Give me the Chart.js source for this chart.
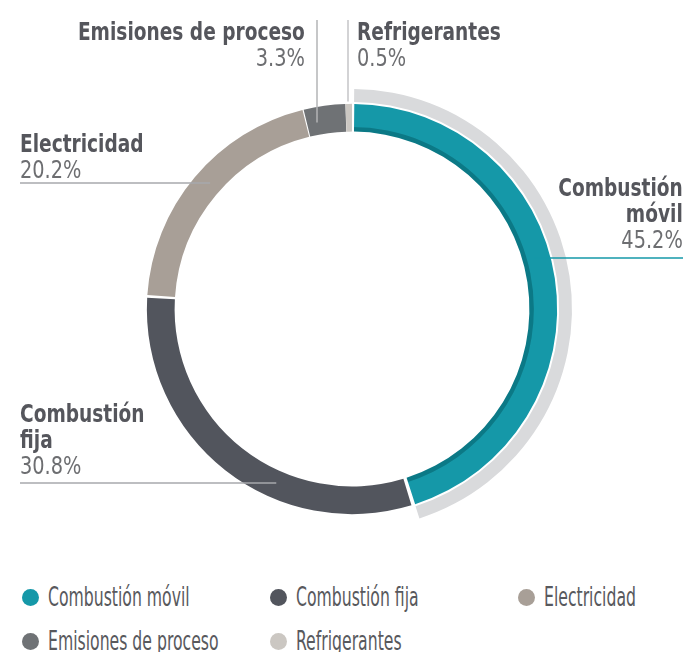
<!DOCTYPE html>
<html>
<head>
<meta charset="utf-8">
<script src="https://cdn.jsdelivr.net/npm/chart.js@4.4.1/dist/chart.umd.min.js"></script>
<style>
  body { margin: 0; background: #fff; font-family: "Liberation Sans Narrow", "DejaVu Sans Condensed", sans-serif; }
  #wrap { position: relative; width: 688px; height: 652px; overflow: hidden; }
  #chartBox { position: absolute; left: 0; top: 0; width: 688px; height: 560px; }
  .lbl { position: absolute; font-size: 24px; line-height: 26px; white-space: nowrap; }
  .lbl b { display: block; font-weight: 700; color: #55565c; }
  .lbl span { display: block; color: #6d6e71; font-size: 25px; }
  #legend { position: absolute; left: 20px; top: 580px; display: grid; grid-template-columns: 248px 248px 180px; row-gap: 10px; }
  .item { display: flex; align-items: center; font-size: 26px; color: #58595d; height: 34px; white-space: nowrap; }
  .item .txt { display: inline-block; transform: scaleX(0.67); transform-origin: left center; }
  .dot { width: 17px; height: 17px; border-radius: 50%; margin: 0 9px 0 2px; flex: none; }
</style>
</head>
<body>
<div id="wrap">
  <div id="chartBox"><canvas id="ring"></canvas></div>
  <div id="labels"></div>
  <div id="legend"></div>
</div>
<script>
// data
const categories = ['Combustión móvil', 'Combustión fija', 'Electricidad', 'Emisiones de proceso', 'Refrigerantes'];
const shares = [45.2, 30.8, 20.2, 3.3, 0.5];
const sliceColors = ['#1598a8', '#52555d', '#a89f97', '#6f7275', '#cbc7c2'];
const shadowColors = ['#d9dadc', 'rgba(0,0,0,0)', 'rgba(0,0,0,0)', 'rgba(0,0,0,0)', 'rgba(0,0,0,0)'];
const bandColor = '#0b7986';

// where each callout sits (layout only)
const callouts = [
    { left: null, right: 5, top: 175, align: 'right', split: true, line: 'h', at: 258, color: '#1598a8' },
    { left: 20, top: 401, align: 'left', split: true, line: 'h', at: 483, color: '#a7a9ac' },
    { left: 20, top: 131, align: 'left', split: false, line: 'h', at: 183, color: '#a7a9ac' },
    { left: null, right: 383, top: 19, align: 'right', split: false, line: 'v', at: 317, color: '#b3b4b6' },
    { left: 357, top: 19, align: 'left', split: false, line: 'v', at: 348, color: '#c4c5c7', stopOuter: true }
];

// labels as html text
const labelsEl = document.getElementById('labels');
categories.forEach((name, i) => {
    const c = callouts[i];
    const div = document.createElement('div');
    div.className = 'lbl';
    div.style.top = c.top + 'px';
    div.style.textAlign = c.align;
    div.style.transform = 'scaleX(0.86)';
    div.style.transformOrigin = c.align + ' top';
    if (c.left !== null) div.style.left = c.left + 'px';
    else div.style.right = c.right + 'px';
    const title = c.split ? name.replace(' ', '<br>') : name;
    div.innerHTML = '<b>' + title + '</b><span>' + shares[i].toFixed(1) + '%</span>';
    labelsEl.appendChild(div);
});

// legend
const legendEl = document.getElementById('legend');
categories.forEach((name, i) => {
    const item = document.createElement('div');
    item.className = 'item';
    item.innerHTML = '<span class="dot" style="background:' + sliceColors[i] + '"></span><span class="txt">' + name + '</span>';
    legendEl.appendChild(item);
});

// dark inner edge on the first slice + leader lines
const ringExtras = {
    id: 'ringExtras',
    afterDatasetsDraw(chart) {
        const ctx = chart.ctx;
        const meta = chart.getDatasetMeta(2);
        const first = meta.data[0];
        const { x, y, innerRadius, outerRadius } = first.getProps(['x', 'y', 'innerRadius', 'outerRadius'], true);

        ctx.save();
        ctx.globalCompositeOperation = 'source-atop';
        ctx.fillStyle = bandColor;
        ctx.beginPath();
        ctx.arc(x, y, innerRadius + 6, first.startAngle, first.endAngle);
        ctx.arc(x, y, innerRadius, first.endAngle, first.startAngle, true);
        ctx.closePath();
        ctx.fill();
        ctx.restore();

        const mid = (innerRadius + outerRadius) / 2;
        ctx.save();
        ctx.lineWidth = 1.5;
        callouts.forEach((c) => {
            ctx.strokeStyle = c.color;
            ctx.beginPath();
            if (c.line === 'h') {
                const dy = c.at - y;
                const dx = Math.sqrt(Math.max(mid * mid - dy * dy, 0));
                if (c.align === 'right') {
                    ctx.moveTo(x + dx, c.at);
                    ctx.lineTo(chart.width - c.right, c.at);
                } else {
                    ctx.moveTo(c.left, c.at);
                    ctx.lineTo(x - dx, c.at);
                }
            } else {
                const dx = c.at - x;
                const r = c.stopOuter ? outerRadius + 4 : mid;
                const dy = Math.sqrt(Math.max(r * r - dx * dx, 0));
                ctx.moveTo(c.at, 20);
                ctx.lineTo(c.at, y - dy);
            }
            ctx.stroke();
        });
        ctx.restore();
    }
};

new Chart(document.getElementById('ring'), {
    type: 'doughnut',
    data: {
        labels: categories,
        datasets: [
            { data: shares, backgroundColor: shadowColors, borderWidth: 0, spacing: 3, weight: 13 },
            { data: shares, backgroundColor: 'rgba(0,0,0,0)', borderWidth: 0, weight: 2 },
            { data: shares, backgroundColor: sliceColors, borderWidth: 0, spacing: 3, weight: 28 }
        ]
    },
    options: {
        responsive: true,
        maintainAspectRatio: false,
        animation: false,
        cutout: '80.5%',
        layout: { padding: { left: 132, right: 116, top: 89, bottom: 31 } },
        plugins: { legend: { display: false }, tooltip: { enabled: false } }
    },
    plugins: [ringExtras]
});
</script>
</body>
</html>
